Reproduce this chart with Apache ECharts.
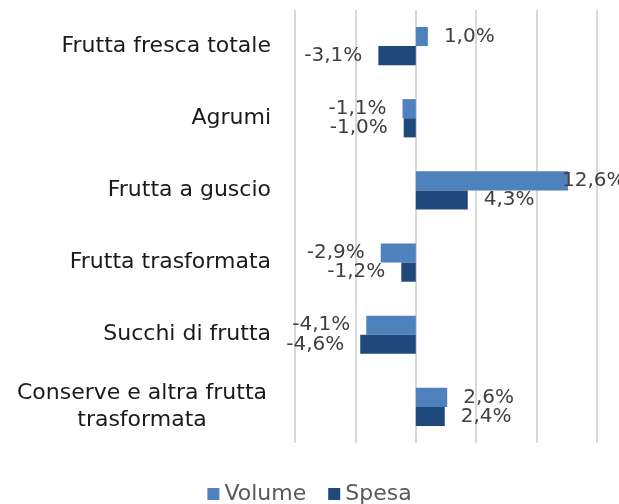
<!DOCTYPE html>
<html><head><meta charset="utf-8">
<script src="https://cdn.jsdelivr.net/npm/echarts@6/dist/echarts.min.js"></script>
<style>html,body{margin:0;padding:0;background:#fff}#c{width:619px;height:504px}</style>
</head><body><div id="c"></div>
<script>
const categories = ["Frutta fresca totale","Agrumi","Frutta a guscio","Frutta trasformata","Succhi di frutta","Conserve e altra frutta\ntrasformata"];
const volume = [1.0, -1.1, 12.6, -2.9, -4.1, 2.6];
const spesa = [-3.1, -1.0, 4.3, -1.2, -4.6, 2.4];
const seriesNames = ["Volume","Spesa"];
const FONT = "DejaVu Sans";
const fmt = p => p.value.toFixed(1).replace('.', ',') + '%';
const chart = echarts.init(document.getElementById('c'), null, {renderer:'canvas'});
const lbl = {show:true, position:'outside', distance:16, formatter:fmt, color:'#404040', fontFamily:FONT, fontSize:20};
// the longest bar label overlaps the bar end (as in the source chart)
const volData = volume.map(v => v === Math.max(...volume) ? {value:v, label:{position:'right', distance:-6}} : v);
chart.setOption({
  animation:false,
  grid:{left:295, right:22, top:10, bottom:61, containLabel:false},
  legend:{data:seriesNames, bottom:-6, left:'center', itemWidth:12, itemHeight:12, itemGap:22,
    icon:'rect', textStyle:{color:'#595959', fontFamily:FONT, fontSize:22}},
  xAxis:{type:'value', min:-10, max:15, interval:5, axisLabel:{show:false}, axisLine:{show:false}, axisTick:{show:false},
    splitLine:{lineStyle:{color:'#d9d9d9', width:2}}},
  yAxis:{type:'category', inverse:true, data:categories, axisLine:{show:false, onZero:false}, axisTick:{show:false},
    axisLabel:{margin:24, color:'#1a1a1a', fontFamily:FONT, fontSize:22,
      formatter: v => v.indexOf('\n')>=0 ? v.split('\n').map(s=>'{c|'+s+'}').join('\n') : v,
      rich:{c:{width:258, align:'center', fontFamily:FONT, fontSize:22, color:'#1a1a1a', lineHeight:27}}}},
  series:[
    {name:seriesNames[0], type:'bar', data:volData, barGap:'0%', barCategoryGap:'47%', itemStyle:{color:'#4f81bd'}, label:lbl},
    {name:seriesNames[1], type:'bar', data:spesa, barGap:'0%', barCategoryGap:'47%', itemStyle:{color:'#1f497d'}, label:lbl}
  ]
});
</script></body></html>
